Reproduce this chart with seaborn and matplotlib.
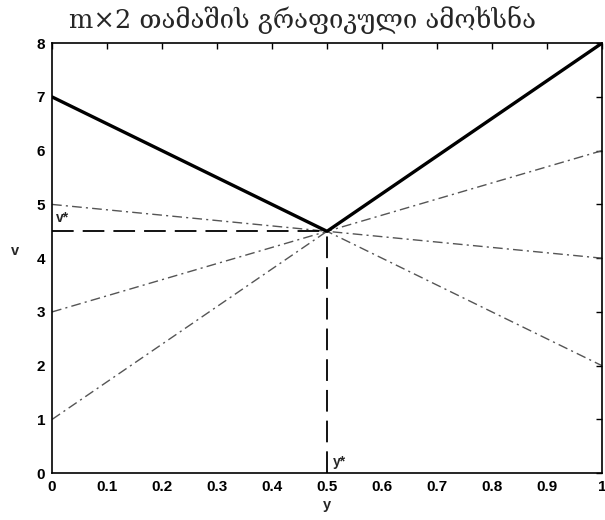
import numpy as np
import pandas as pd
import matplotlib
matplotlib.use("Agg")
import matplotlib.pyplot as plt
import seaborn as sns

# Payoff lines of the m x 2 game: value at y=0 and at y=1 for each row strategy
y_ends = [0.0, 1.0]
row_at_0 = [7, 1, 5, 3]
row_at_1 = [2, 8, 4, 6]
strategies = ["1", "2", "3", "4"]

title = "m×2 თამაშის გრაფიკული ამოხსნა"
y_ticks = [0, 0.1, 0.2, 0.3, 0.4, 0.5, 0.6, 0.7, 0.8, 0.9, 1]
v_ticks = [0, 1, 2, 3, 4, 5, 6, 7, 8]

sns.set_theme(style="white")
plt.rcParams["font.family"] = ["Liberation Sans", "DejaVu Sans"]

rows = []
for s, a, b in zip(strategies, row_at_0, row_at_1):
    rows.append({"strategy": s, "y": y_ends[0], "v": a})
    rows.append({"strategy": s, "y": y_ends[1], "v": b})
df = pd.DataFrame(rows)

# Upper envelope and its minimum (the game solution)
a0 = np.array(row_at_0, float)
a1 = np.array(row_at_1, float)
cands = {0.0, 1.0}
for i in range(len(a0)):
    for j in range(i + 1, len(a0)):
        d = (a1[i] - a0[i]) - (a1[j] - a0[j])
        if d != 0:
            t = (a0[j] - a0[i]) / d
            if 0 < t < 1:
                cands.add(round(t, 10))
env_y = np.array(sorted(cands))
env_v = np.max(a0[:, None] + (a1 - a0)[:, None] * env_y[None, :], axis=0)
k = int(np.argmin(env_v))
y_star, v_star = env_y[k], env_v[k]
env_df = pd.DataFrame({"y": env_y, "v": env_v})

fig = plt.figure(figsize=(6.05, 5.2), dpi=100)
ax = fig.add_axes([0.086, 0.090, 0.909, 0.827])

sns.lineplot(data=df, x="y", y="v", units="strategy", estimator=None,
             color="#555555", linewidth=1.0, linestyle=(0, (7, 3, 1.5, 3)),
             ax=ax)
sns.lineplot(data=env_df, x="y", y="v", color="black", linewidth=2.4, ax=ax)

ax.plot([0, y_star], [v_star, v_star], color="black", linewidth=1.3,
        linestyle=(0, (12, 5)))
ax.plot([y_star, y_star], [0, v_star], color="black", linewidth=1.3,
        linestyle=(0, (12, 5)))

ax.text(0.008, v_star + 0.12, "v*", fontsize=10, fontweight="bold", ha="left", va="bottom")
ax.text(y_star + 0.01, 0.08, "y*", fontsize=10, fontweight="bold", ha="left", va="bottom")

ax.set_xlim(0, 1)
ax.set_ylim(0, 8)
ax.set_xticks(y_ticks)
ax.set_xticklabels([f"{t:g}" for t in y_ticks])
ax.set_yticks(v_ticks)
ax.tick_params(direction="in", length=4, width=1, top=True, right=True,
               labelsize=11, pad=5, colors="black")
for lab in ax.get_xticklabels() + ax.get_yticklabels():
    lab.set_fontweight("bold")
for sp in ax.spines.values():
    sp.set_color("black")
    sp.set_linewidth(1.2)

ax.set_xlabel("y", fontsize=10.5, fontweight="bold", labelpad=3)
ax.set_ylabel("v", fontsize=10.5, fontweight="bold", rotation=0, labelpad=22)
ax.yaxis.set_label_coords(-0.068, 0.5)
fig.text(0.5, 0.962, title, fontsize=18.5, ha="center", va="center",
         family=["DejaVu Serif", "DejaVu Sans"])

fig.savefig("out.png", dpi=100, facecolor="white")
